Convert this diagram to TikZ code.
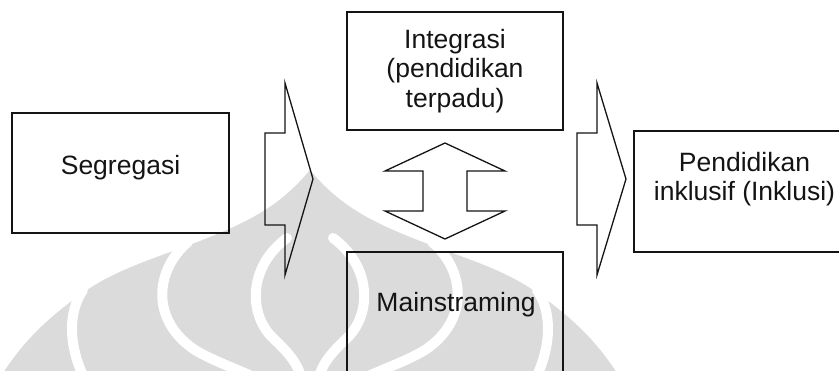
\documentclass[tikz,border=0pt]{standalone}
\usepackage{fontspec}
\setmainfont{Liberation Sans}
\definecolor{wm}{RGB}{219,219,219}
\definecolor{ink}{RGB}{20,20,20}
\tikzset{
  box/.style={draw=ink, line width=1.3pt, rectangle, inner sep=0pt},
  blockarrow/.style={draw=ink, line width=1.3pt, line join=miter},
  lbl/.style={inner sep=0pt, text=ink, font=\fontsize{26.5}{29.5}\selectfont, align=center},
  band/.style={draw=white, line width=10pt, line cap=round},
}
\begin{document}
\begin{tikzpicture}[x=1pt,y=-1pt]
\useasboundingbox (0,0) rectangle (839,370);
% watermark
\begin{scope}
\clip (0,0) rectangle (839,370);
\fill[wm] (310,170) .. controls (285,200) and (260,215) .. (229,229)
  .. controls (170,255) and (120,265) .. (80,295)
  .. controls (45,320) and (20,345) .. (0,378) -- (620,378)
  .. controls (600,345) and (575,320) .. (540,295)
  .. controls (500,265) and (450,255) .. (391,229)
  .. controls (360,215) and (335,200) .. (310,170) -- cycle;
\draw[band] (83,290) .. controls (68,312) and (68,345) .. (85,380);
\draw[band] (537,290) .. controls (552,312) and (552,345) .. (535,380);
\draw[band] (188,242) .. controls (155,270) and (150,320) .. (195,350) .. controls (215,362) and (240,370) .. (260,380);
\draw[band] (432,242) .. controls (465,270) and (470,320) .. (425,350) .. controls (405,362) and (380,370) .. (360,380);
\draw[band] (287,238) .. controls (250,265) and (248,310) .. (270,335) .. controls (285,350) and (297,360) .. (302,380);
\draw[band] (333,238) .. controls (370,265) and (372,310) .. (350,335) .. controls (335,350) and (323,360) .. (318,380);
\end{scope}
% boxes
\node[box, minimum width=217pt, minimum height=120pt] (seg) at (120.5,173) {};
\node[box, minimum width=216pt, minimum height=118pt] (int) at (455,71) {};
\node[box, minimum width=216pt, minimum height=128pt] (mai) at (455,316) {};
\node[box, minimum width=221pt, minimum height=121pt] (inc) at (744.5,191.5) {};
% labels
\node[lbl, anchor=base] (tseg) at (120.5,174.5) {Segregasi};
\node[lbl, anchor=north] (tint) at (455,29) {Integrasi\\(pendidikan\\terpadu)};
\node[lbl, anchor=base] (tmai) at (456,311) {Mainstraming};
\node[lbl, anchor=north] (tinc) at (744.5,152) {Pendidikan\\inklusif (Inklusi)};
% block arrows
\draw[blockarrow] (265,133) -- (285,133) -- (285,83) -- (313,179) -- (285,275) -- (285,225) -- (265,225) -- cycle;
\draw[blockarrow] (577,133) -- (597,133) -- (597,83) -- (626,179) -- (597,275) -- (597,225) -- (577,225) -- cycle;
\draw[blockarrow] (445,143) -- (505,171) -- (467,171) -- (467,211) -- (505,211) -- (445,239) -- (385,211) -- (423,211) -- (423,171) -- (385,171) -- cycle;
\end{tikzpicture}
\end{document}
